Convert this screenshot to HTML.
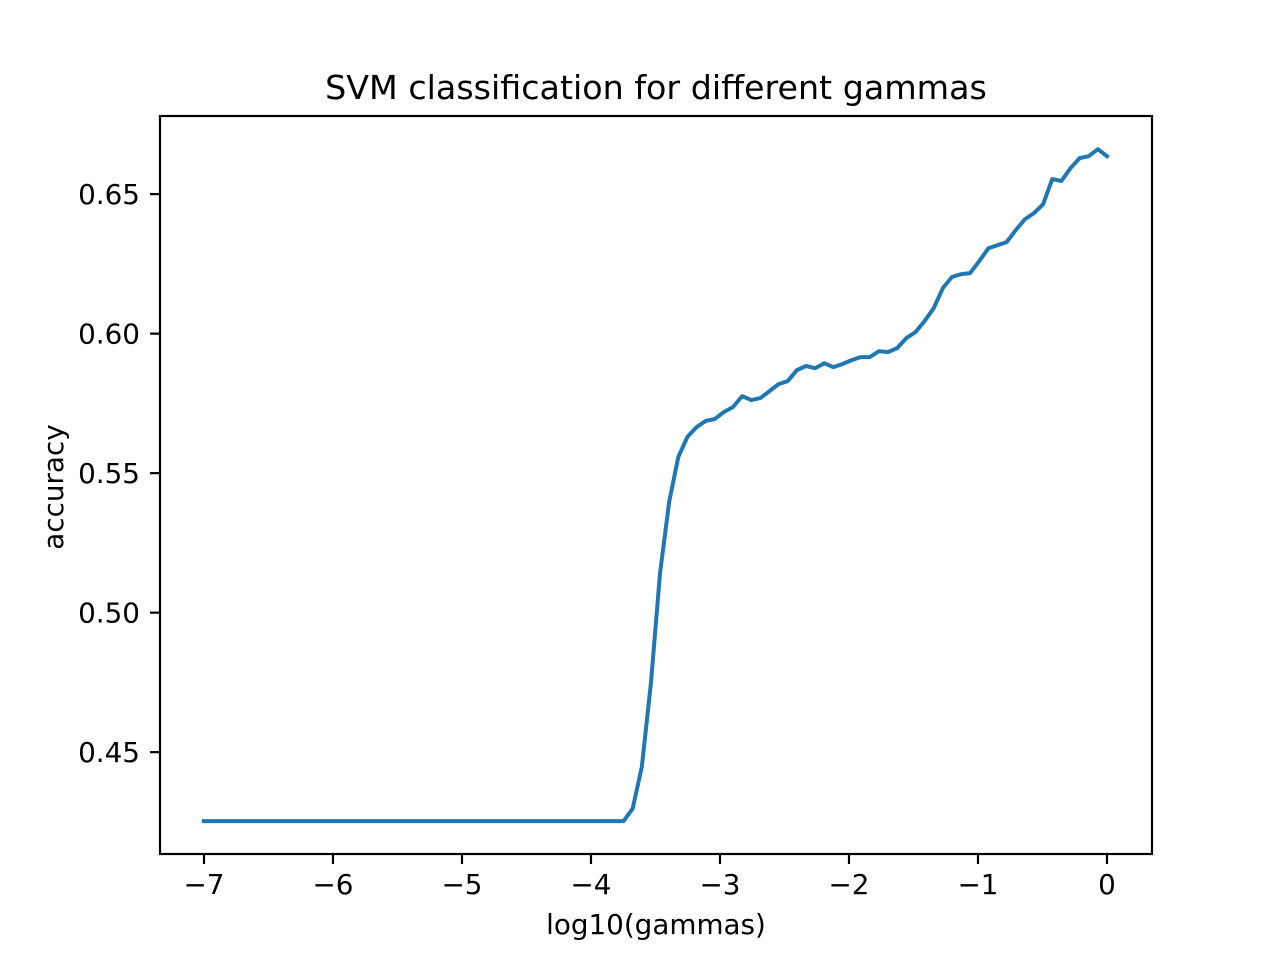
<!DOCTYPE html>
<html><head><meta charset="utf-8"><style>
html,body{margin:0;padding:0;background:#fff;}
svg text{font-family:"DejaVu Sans","Liberation Sans",sans-serif;fill:#000;}
</style></head><body>
<svg id="chart" width="1280" height="960" viewBox="0 0 1280 960" xmlns="http://www.w3.org/2000/svg">
<rect width="1280" height="960" fill="#fff"/>
<text x="656" y="99" font-size="33.3" text-anchor="middle">SVM classification for different gammas</text>
<g id="ticks"></g>
<path id="series" fill="none" stroke="#1f77b4" stroke-width="4" stroke-linejoin="round" stroke-linecap="square"/>
<rect x="160" y="116" width="992" height="738" fill="none" stroke="#000" stroke-width="2.2"/>
<text x="656" y="934" font-size="27.8" text-anchor="middle">log10(gammas)</text>
<text x="63" y="487" font-size="27.8" text-anchor="middle" transform="rotate(-90 63 487)">accuracy</text>
</svg>
<script>
const xTicks = [-7,-6,-5,-4,-3,-2,-1,0];
const yTicks = [0.45,0.50,0.55,0.60,0.65];
const yTickLabels = ["0.45","0.50","0.55","0.60","0.65"];
const nPoints = 100;
const xStart = -7, xEnd = 0;
const flatValue = 0.4253;
const flatCount = 47;
const riseValues = [0.4298,0.4447,0.4747,0.5142,0.5397,0.5558,0.5630,0.5665,0.5687,0.5694,0.5719,0.5737,0.5776,0.5762,0.5769,0.5794,0.5819,0.5830,
0.5869,0.5884,0.5876,0.5894,0.5880,0.5891,0.5905,0.5916,0.5916,0.5937,0.5934,0.5948,0.5984,0.6005,0.6045,0.6091,0.6163,0.6203,0.6213,0.6217,0.6260,0.6306,0.6317,0.6328,0.6371,0.6410,0.6432,0.6464,0.6554,0.6547,0.6593,0.6629,0.6636,0.6661,0.6636];

const X0=160,X1=1152,Y0=854,Y1=116;
const xMin=-7.341,xMax=0.349,yMin=0.4135,yMax=0.6780;
const sx=v=>X0+(v-xMin)/(xMax-xMin)*(X1-X0);
const sy=v=>Y0-(v-yMin)/(yMax-yMin)*(Y0-Y1);
const NS="http://www.w3.org/2000/svg";
const g=document.getElementById('ticks');
function mk(tag,attrs,txt){const e=document.createElementNS(NS,tag);for(const k in attrs)e.setAttribute(k,attrs[k]);if(txt!==undefined)e.textContent=txt;g.appendChild(e);return e;}
xTicks.forEach(t=>{
  const x=sx(t);
  const l=mk('line',{x1:x,x2:x,y1:854,y2:864,stroke:'#000','stroke-width':2.2});
  
  
  const tx=mk('text',{x:x,y:894,'font-size':27.8,'text-anchor':'middle'},(t<0?'\u2212':'')+Math.abs(t));
  
  
});
yTicks.forEach((t,i)=>{
  const y=sy(t);
  const l=mk('line',{x1:150,x2:160,y1:y,y2:y,stroke:'#000','stroke-width':2.2});
  
  
  const tx=mk('text',{x:140,y:y+10,'font-size':27.8,'text-anchor':'end'},yTickLabels[i]);
  
  
});
const values=[];
for(let i=0;i<flatCount;i++)values.push(flatValue);
riseValues.forEach(v=>values.push(v));
let d='';
values.forEach((v,i)=>{
  const xv=xStart+i*(xEnd-xStart)/(values.length-1);
  d+=(i?'L':'M')+sx(xv).toFixed(2)+' '+sy(v).toFixed(2);
});
document.getElementById('series').setAttribute('d',d);
</script>
</body></html>
